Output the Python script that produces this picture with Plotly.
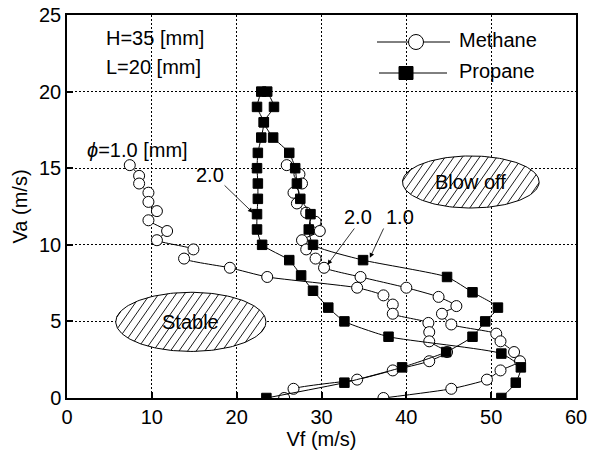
import numpy as np
import plotly.graph_objects as go

# ---- data ----
methane1_vf = [7.4, 8.5, 8.5, 9.6, 9.6, 10.6, 9.6, 11.8, 10.6, 14.9, 13.8, 19.2, 23.6,
               34.2, 37.3, 38.4, 38.4, 42.6, 42.7, 42.7, 44.8, 42.7, 38.4, 34.2, 26.7, 25.6]
methane1_va = [15.2, 14.5, 14.0, 13.4, 12.8, 12.2, 11.6, 10.9, 10.3, 9.7, 9.1, 8.5, 7.9,
               7.2, 6.7, 6.1, 5.5, 4.9, 4.3, 3.7, 3.0, 2.4, 1.8, 1.2, 0.6, 0.0]

methane2_vf = [25.9, 27.4, 27.7, 26.7, 27.1, 28.2, 29.3, 29.8, 27.7, 28.2, 29.3, 30.3, 34.6,
               40.0, 43.8, 45.9, 44.2, 45.3, 50.6, 51.1, 52.7, 53.4, 51.1, 49.5, 45.3, 37.3]
methane2_va = [15.2, 14.6, 14.0, 13.4, 12.7, 12.1, 11.5, 10.9, 10.3, 9.7, 9.1, 8.5, 7.9,
               7.2, 6.6, 6.0, 5.5, 4.8, 4.2, 3.7, 3.0, 2.4, 1.8, 1.2, 0.6, 0.0]

propane1_vf = [23.6, 24.4, 23.2, 24.3, 26.2, 26.9, 27.1, 27.5, 28.7, 28.5, 29.0, 34.9,
               44.8, 47.8, 50.8, 49.3, 47.8, 44.7, 39.5, 32.7, 23.5]
propane1_va = [20.0, 19.0, 18.0, 17.0, 16.0, 15.0, 14.0, 13.0, 12.0, 11.0, 10.0, 9.0,
               7.9, 6.9, 5.9, 5.0, 4.0, 3.0, 2.0, 1.0, 0.0]

propane2_vf = [22.9, 22.4, 23.2, 22.9, 22.5, 22.4, 22.5, 22.5, 22.4, 22.4, 23.0, 26.2,
               27.6, 29.0, 30.8, 32.7, 37.9, 51.2, 53.5, 52.9, 51.2]
propane2_va = [20.0, 19.0, 18.0, 17.0, 16.0, 15.0, 14.0, 13.0, 12.0, 11.0, 10.0, 9.0,
               8.0, 7.0, 5.9, 5.0, 4.0, 2.9, 2.0, 1.0, 0.0]

x_ticks = [0, 10, 20, 30, 40, 50, 60]
y_ticks = [0, 5, 10, 15, 20, 25]
legend_names = ["Methane", "Propane"]

FONT = "Liberation Sans, Arial, sans-serif"
FS = 20

# plot-area geometry in pixels (for placing non-data decorations)
L, R, T, B = 67, 576, 15, 398
XMAX, YMAX = 60.0, 25.0
PPX, PPY = (R - L) / XMAX, (B - T) / YMAX

def px2paper(px, py):
    return (px - L) / (R - L), 1 - (py - T) / (B - T)

fig = go.Figure()

# hatched region ellipses (decoration)
def ellipse(cx, cy, rx, ry, label):
    t = np.linspace(0, 2 * np.pi, 161)
    fig.add_trace(go.Scatter(
        x=cx + rx * np.cos(t), y=cy + ry * np.sin(t), mode="lines",
        line=dict(color="black", width=1), fill="toself", fillcolor="white",
        showlegend=False, hoverinfo="skip"))
    # hatch lines, computed in pixel space then mapped back to data
    rxp, ryp = rx * PPX, ry * PPY
    th = np.deg2rad(55)
    c, s = np.cos(th), np.sin(th)
    h = 8.6
    path = []
    for k in range(-40, 41):
        off = k * h
        # points (off + u c, -u s) relative to centre, screen y down
        a = (c / rxp) ** 2 + (s / ryp) ** 2
        b = 2 * off * c / rxp ** 2
        cc = (off / rxp) ** 2 - 1
        disc = b * b - 4 * a * cc
        if disc <= 0:
            continue
        u1 = (-b - np.sqrt(disc)) / (2 * a)
        u2 = (-b + np.sqrt(disc)) / (2 * a)
        pts = []
        for u in (u1, u2):
            dxp, dyp = off + u * c, -u * s
            pts.append((cx + dxp / PPX, cy - dyp / PPY))
        path.append(f"M{pts[0][0]:.4f},{pts[0][1]:.4f}L{pts[1][0]:.4f},{pts[1][1]:.4f}")
    fig.add_shape(type="path", xref="x", yref="y", path="".join(path),
                  line=dict(color="black", width=0.9), layer="above")
    fig.add_annotation(x=cx, y=cy, text=label, showarrow=False,
                       font=dict(family=FONT, size=FS, color="black"))

ellipse(47.6, 14.1, 8.05, 1.7, "Blow off")
ellipse(14.6, 4.97, 8.85, 1.93, "Stable")

circ = dict(symbol="circle", size=11, color="white", line=dict(color="black", width=1))
sq = dict(symbol="square", size=9.5, color="black", line=dict(color="black", width=1))
ln = dict(color="black", width=1, shape="spline", smoothing=0.5)

for vx, vy, mk in [(methane1_vf, methane1_va, circ), (methane2_vf, methane2_va, circ),
                   (propane1_vf, propane1_va, sq), (propane2_vf, propane2_va, sq)]:
    fig.add_trace(go.Scatter(x=vx, y=vy, mode="lines+markers", line=ln, marker=mk,
                             showlegend=False))

# text annotations
for txt, x, y in [("H=35 [mm]", 4.4, 23.5), ("L=20 [mm]", 4.4, 21.6),
                  ("<i>ϕ</i>=1.0 [mm]", 2.1, 16.2)]:
    fig.add_annotation(x=x, y=y, text=txt, showarrow=False, xanchor="left",
                       font=dict(family=FONT, size=FS, color="black"))
for txt, x, y in [("2.0", 16.9, 14.55), ("2.0", 34.3, 11.8), ("1.0", 39.2, 11.8)]:
    fig.add_annotation(x=x, y=y, text=txt, showarrow=False,
                       font=dict(family=FONT, size=FS, color="black"))

# arrows
for (tx, ty, hx, hy) in [(18.4, 13.97, 21.9, 12.1), (34.0, 11.16, 30.7, 8.7),
                         (37.4, 11.16, 35.7, 9.15)]:
    fig.add_annotation(x=hx, y=hy, ax=tx, ay=ty, axref="x", ayref="y", text="",
                       showarrow=True, arrowhead=2, arrowsize=1.2, arrowwidth=0.8,
                       arrowcolor="black")

# hand-drawn legend (line, marker, label)
leg_rows = [(42, 377, 450, 416, "circle"), (73, 379, 447, 406, "square")]
for name, (py, x0p, x1p, mxp, kind) in zip(legend_names, leg_rows):
    xa, ya = px2paper(x0p, py)
    xb, _ = px2paper(x1p, py)
    fig.add_shape(type="line", xref="paper", yref="paper", x0=xa, x1=xb, y0=ya, y1=ya,
                  line=dict(color="black", width=1))
    mx, my = px2paper(mxp, py)
    if kind == "circle":
        fig.add_shape(type="circle", xref="paper", yref="paper", xsizemode="pixel",
                      ysizemode="pixel", xanchor=mx, yanchor=my, x0=-7.5, x1=7.5,
                      y0=-7.5, y1=7.5, fillcolor="white", line=dict(color="black", width=1))
    else:
        fig.add_shape(type="rect", xref="paper", yref="paper", xsizemode="pixel",
                      ysizemode="pixel", xanchor=mx, yanchor=my, x0=-7, x1=7,
                      y0=-6.5, y1=6.5, fillcolor="black", line=dict(color="black", width=1))
    tx, ty = px2paper(457, py - 2)
    fig.add_annotation(xref="paper", yref="paper", x=tx, y=ty, text=name, showarrow=False,
                       xanchor="left", yanchor="middle",
                       font=dict(family=FONT, size=FS, color="black"))

axis_common = dict(showline=True, linecolor="black", linewidth=1.5, mirror=True,
                   ticks="inside", ticklen=6, tickwidth=1.5, tickcolor="black",
                   showgrid=True, gridcolor="black", gridwidth=1, griddash="1.5px,2.5px",
                   zeroline=False, automargin=False,
                   tickfont=dict(family=FONT, size=FS, color="black"))

fig.update_xaxes(range=[0, XMAX], tickvals=x_ticks, **axis_common,
                 title=dict(text="Vf (m/s)", font=dict(family=FONT, size=FS, color="black"),
                            standoff=4))
fig.update_yaxes(range=[0, YMAX], tickvals=y_ticks, **axis_common,
                 title=dict(text="Va (m/s)", font=dict(family=FONT, size=FS, color="black"),
                            standoff=6))

fig.update_layout(
    width=590, height=459,
    margin=dict(l=L, r=590 - R, t=T, b=459 - B),
    paper_bgcolor="white", plot_bgcolor="white",
    font=dict(family=FONT, size=FS, color="black"),
    showlegend=False,
)

fig.write_html("out.html")
